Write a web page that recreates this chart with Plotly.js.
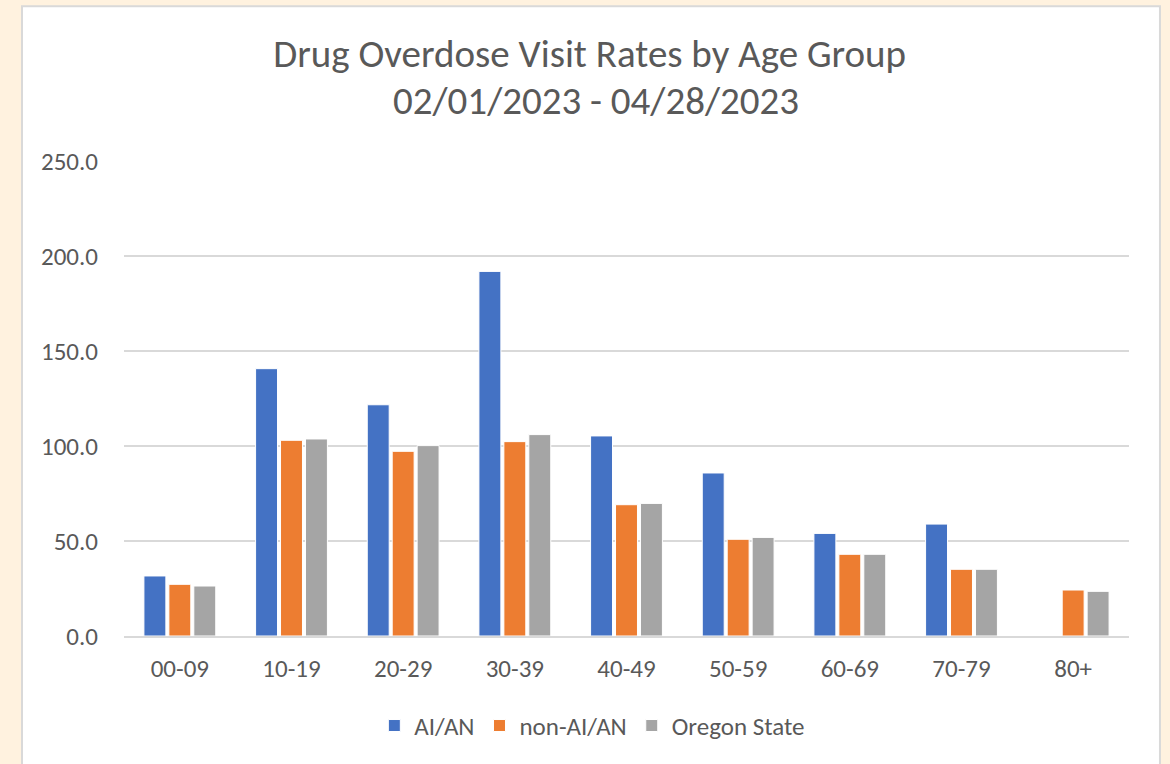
<!DOCTYPE html>
<html><head><meta charset="utf-8">
<script src="https://cdn.plot.ly/plotly-3.0.1.min.js"></script>
<style>html,body{margin:0;padding:0;background:#FFF2DF;}#chart{width:1170px;height:764px;}</style>
</head><body><div id="chart"></div>
<script>
const ageGroups = ["00-09","10-19","20-29","30-39","40-49","50-59","60-69","70-79","80+"];
const aian = [31.6, 140.7, 121.7, 191.9, 105.3, 85.8, 54.0, 58.9, null];
const nonAian = [27.2, 103.0, 97.2, 102.3, 69.1, 50.9, 43.0, 35.1, 24.2];
const oregon = [26.3, 103.7, 100.2, 106.0, 69.8, 51.9, 43.0, 35.1, 23.5];
const seriesNames = ["AI/AN", "non-AI/AN", "Oregon State"];
const titleLine1 = "Drug Overdose Visit Rates by Age Group";
const titleLine2 = "02/01/2023 - 04/28/2023";
const yTickVals = [0, 50, 100, 150, 200, 250];
const yTickText = ["0.0","50.0","100.0","150.0","200.0","250.0"];
const colors = ["#4472C4", "#ED7D31", "#A5A5A5"];
const font = "Calibri, Carlito, Lato, sans-serif";

const traces = [aian, nonAian, oregon].map((vals, i) => ({
  type: 'bar', x: ageGroups, y: vals, name: seriesNames[i],
  marker: {color: colors[i], line: {color: '#FFFFFF', width: 1}},
  hoverinfo: 'x+y+name'
}));

const layout = {
  width: 1170, height: 764,
  paper_bgcolor: '#FFF2DF', plot_bgcolor: 'rgba(0,0,0,0)',
  margin: {l: 124, r: 41, t: 161, b: 128},
  title: {text: titleLine1,
    font: {family: font, size: 39, color: '#595959'}, x: 0.504, xanchor: 'center', y: 0.93, yanchor: 'middle'},
  annotations: [{text: titleLine2, xref: 'paper', yref: 'paper', x: 0.47, xanchor: 'center',
    y: 1.128, yanchor: 'middle', showarrow: false, font: {family: font, size: 39, color: '#595959'}}],
  barmode: 'group', bargap: 0.33, bargroupgap: 0.12,
  xaxis: {type: 'category', showgrid: false, showline: true, linecolor: '#D9D9D9', linewidth: 2,
    ticks: 'outside', ticklen: 9, tickcolor: 'rgba(0,0,0,0)',
    tickfont: {family: font, size: 25, color: '#595959'}},
  yaxis: {range: [0, 250], tickvals: yTickVals, ticktext: yTickText,
    showgrid: true, gridcolor: '#D9D9D9', gridwidth: 2, zeroline: false, showline: false,
    ticks: 'outside', ticklen: 20, tickcolor: 'rgba(0,0,0,0)',
    tickfont: {family: font, size: 25, color: '#595959'}},
  legend: {orientation: 'h', x: 0.466, xanchor: 'center', y: -0.189, yanchor: 'middle',
    font: {family: font, size: 25, color: '#595959'}, itemwidth: 30, bgcolor: 'rgba(0,0,0,0)'},
  shapes: [{type: 'rect', xref: 'paper', yref: 'paper', x0: -0.1015, x1: 1.0308, y0: -0.32, y1: 1.326,
    fillcolor: '#FFFFFF', line: {color: '#D9D9D9', width: 2}, layer: 'below'}],
  showlegend: true
};
Plotly.newPlot('chart', traces, layout, {displayModeBar: false});
</script></body></html>
